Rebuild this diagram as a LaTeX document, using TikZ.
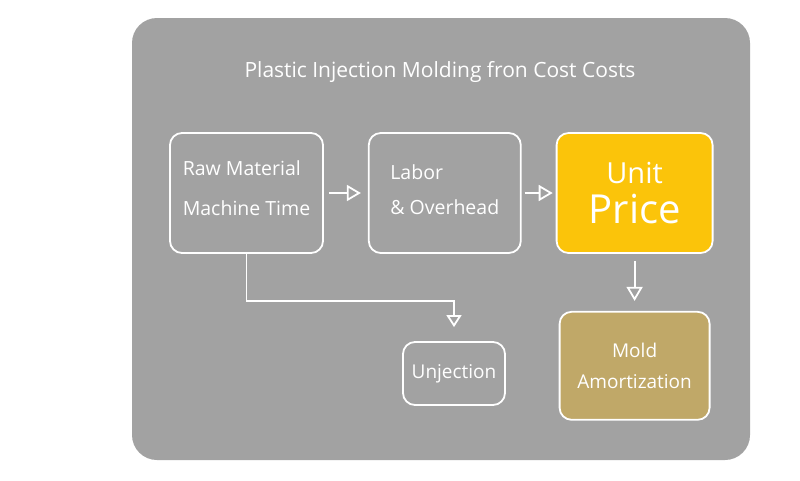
\documentclass[tikz,border=0pt]{standalone}
\usepackage{fontspec}
\setmainfont{Open Sans}
\usepackage{tikz}
\usetikzlibrary{arrows.meta,positioning,backgrounds}
\definecolor{panel}{RGB}{162,162,162}
\definecolor{precio}{RGB}{251,196,10}
\definecolor{molde}{RGB}{192,168,104}
\tikzstyle{caja}=[rectangle,draw=white,line width=1.8pt,rounded corners=12,text=white,align=left,inner sep=0pt]
\tikzstyle{coste}=[caja,minimum width=153,minimum height=120,font=\fontsize{19.5}{40}\selectfont]
\tikzstyle{flecha}=[->,draw=white,line width=1.8pt]

\begin{document}
\begin{tikzpicture}[x=1pt,y=-1pt,>={Triangle[open,length=14pt,width=16pt]}]
	\useasboundingbox[fill=white] (0,0) rectangle (800,480);
	\fill[panel,rounded corners=25] (132,18) rectangle (750,460);
	\node[text=white,font=\fontsize{21}{24}\selectfont] (titulo) at (440,72) {Plastic Injection Molding fron Cost Costs};
	\begin{scope}[node distance=44pt]
		\node[coste] (raw) at (246.5,193) {Raw Material\\Machine Time\\[-30pt]};
		\node[coste,minimum width=152,font=\fontsize{19.5}{35}\selectfont] (labor) [right=of raw] {Labor\\\& Overhead\\[-28pt]};
		\node[caja,fill=precio,minimum width=156,minimum height=120,align=center,font=\fontsize{40}{40}\selectfont] (price) [right=34pt of labor] {{\fontsize{29}{30}\selectfont Unit}\\Price};
		\node[caja,fill=molde,minimum width=150,minimum height=108,align=center,font=\fontsize{19}{31}\selectfont] (mold) [below=57pt of price] {Mold\\Amortization};
		\node[caja,minimum width=102,minimum height=63,font=\fontsize{19}{20}\selectfont] (inj) at (454,373.5) {Unjection};
	\end{scope}
	\draw[flecha,shorten <=5pt,shorten >=7pt] (raw) -- (labor);
	\draw[flecha,shorten <=3pt,shorten >=3pt] (labor) -- (price);
	\draw[flecha,shorten <=7pt,shorten >=10pt] (price) -- (mold);
	\draw[flecha,>={Triangle[open,length=12pt,width=15pt]},shorten >=14pt] (raw.south) -- ++(0,47) -| (inj.north);
\end{tikzpicture}
\end{document}
